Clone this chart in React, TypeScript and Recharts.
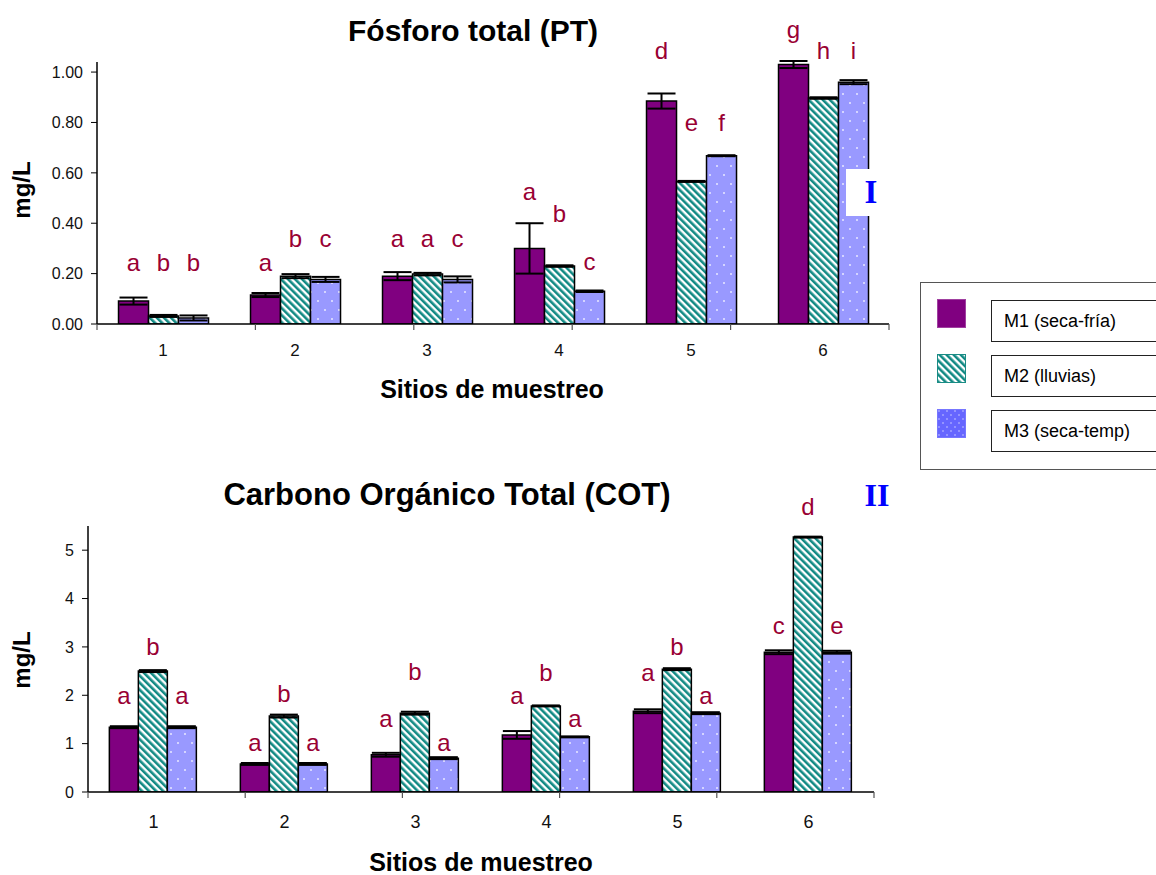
import React from "react"
import { BarChart, Bar, XAxis, YAxis, ErrorBar, LabelList } from "recharts"

const FONT = "Arial, 'Liberation Sans', sans-serif"
const SERIF = "'Times New Roman', 'Liberation Serif', serif"
const LETTER = "#990033"

const sites = ["1", "2", "3", "4", "5", "6"]
const seriesNames = ["M1 (seca-fría)", "M2 (lluvias)", "M3 (seca-temp)"]

// Fósforo total (PT), mg/L
const ptM1 = [0.091, 0.115, 0.19, 0.3, 0.885, 1.03]
const ptM2 = [0.032, 0.19, 0.198, 0.23, 0.566, 0.897]
const ptM3 = [0.024, 0.177, 0.177, 0.13, 0.668, 0.96]
const ptErrM1 = [0.014, 0.008, 0.016, 0.1, 0.03, 0.014]
const ptErrM2 = [0.004, 0.008, 0.005, 0.003, 0.002, 0.003]
const ptErrM3 = [0.01, 0.01, 0.012, 0.003, 0.002, 0.008]
const ptLetM1 = ["a", "a", "a", "a", "d", "g"]
const ptLetM2 = ["b", "b", "a", "b", "e", "h"]
const ptLetM3 = ["b", "c", "c", "c", "f", "i"]
// height (mg/L) at which each letter sits
const ptLvlM1 = [0.245, 0.245, 0.34, 0.526, 1.087, 1.17]
const ptLvlM2 = [0.245, 0.34, 0.34, 0.44, 0.8, 1.087]
const ptLvlM3 = [0.245, 0.34, 0.34, 0.25, 0.8, 1.087]
const ptTicks = [0, 0.2, 0.4, 0.6, 0.8, 1.0]

// Carbono Orgánico Total (COT), mg/L
const cotM1 = [1.34, 0.58, 0.77, 1.18, 1.67, 2.89]
const cotM2 = [2.5, 1.57, 1.63, 1.78, 2.54, 5.27]
const cotM3 = [1.34, 0.58, 0.7, 1.14, 1.63, 2.89]
const cotErrM1 = [0.02, 0.02, 0.04, 0.08, 0.04, 0.04]
const cotErrM2 = [0.02, 0.03, 0.03, 0.01, 0.02, 0.01]
const cotErrM3 = [0.02, 0.02, 0.02, 0.01, 0.02, 0.03]
const cotLetM1 = ["a", "a", "a", "a", "a", "c"]
const cotLetM2 = ["b", "b", "b", "b", "b", "d"]
const cotLetM3 = ["a", "a", "a", "a", "a", "e"]
const cotLvlM1 = [2.0, 1.03, 1.53, 2.0, 2.48, 3.45]
const cotLvlM2 = [3.0, 2.04, 2.5, 2.48, 3.0, 5.9]
const cotLvlM3 = [2.0, 1.03, 1.03, 1.53, 2.0, 3.45]
const cotTicks = [0, 1, 2, 3, 4, 5]

// category boundaries on the x axis (tick marks sit between sites)
const bounds = [0, 1, 2, 3, 4, 5, 6]

const buildRows = (m1: number[], m2: number[], m3: number[], e1: number[], e2: number[], e3: number[]) =>
  sites.map((s, i) => ({ site: s, m1: m1[i], m2: m2[i], m3: m3[i], e1: e1[i], e2: e2[i], e3: e3[i] }))

const ptData = buildRows(ptM1, ptM2, ptM3, ptErrM1, ptErrM2, ptErrM3)
const cotData = buildRows(cotM1, cotM2, cotM3, cotErrM1, cotErrM2, cotErrM3)

const fills = ["#800080", "url(#stripes)", "url(#dots)"]

const letterLabel = (letters: string[], levels: number[], values: number[]) => (props: any) => {
  const { x, y, width, height, index } = props
  const v = values[index]
  if (!v || !height) return null
  const base = Number(y) + Number(height)
  const ly = base - (levels[index] / v) * Number(height)
  return (
    <text
      x={Number(x) + Number(width) / 2}
      y={ly}
      textAnchor="middle"
      dominantBaseline="central"
      fontSize={24}
      fill={LETTER}
      fontFamily={FONT}
    >
      {letters[index]}
    </text>
  )
}

// tick mark only, no label
const BoundTick = (props: any) => {
  const { x, y } = props
  return <line x1={x} x2={x} y1={y - 8} y2={y - 2} stroke="#555" strokeWidth={1.2} />
}

type PanelProps = {
  data: any[]
  domain: [number, number]
  ticks: number[]
  fmt: (v: number) => string
  margin: { top: number; right: number; left: number; bottom: number }
  values: number[][]
  letters: string[][]
  levels: number[][]
  xFont: number
  xGap: number
}

const Panel = ({ data, domain, ticks, fmt, margin, values, letters, levels, xFont, xGap }: PanelProps) => (
  <BarChart width={900} height={400} data={data} margin={margin} barCategoryGap="16.3%" barGap={0}>
    <XAxis
      xAxisId="sites"
      dataKey="site"
      height={30}
      axisLine={false}
      tickLine={false}
      tickMargin={xGap}
      tick={{ fontSize: xFont, fill: "#111", fontFamily: FONT }}
    />
    <XAxis
      xAxisId="a"
      type="number"
      domain={[0, 6]}
      ticks={bounds}
      interval={0}
      height={1}
      axisLine={{ stroke: "#000", strokeWidth: 1.5 }}
      tickLine={false}
      tickSize={0}
      tickMargin={8}
      tick={<BoundTick />}
    />
    <YAxis
      width={60}
      domain={domain}
      ticks={ticks}
      tickFormatter={fmt}
      axisLine={{ stroke: "#000", strokeWidth: 1.5 }}
      tickLine={{ stroke: "#000" }}
      tickSize={6}
      tickMargin={8}
      tick={{ fontSize: 16, fill: "#111", fontFamily: FONT }}
      allowDataOverflow
    />
    {["m1", "m2", "m3"].map((k, si) => (
      <Bar key={k} xAxisId="sites" dataKey={k} fill={fills[si]} stroke="#000" strokeWidth={1.5} isAnimationActive={false}>
        <ErrorBar dataKey={"e" + (si + 1)} width={14} stroke="#000" strokeWidth={2} direction="y" />
        <LabelList content={letterLabel(letters[si], levels[si], values[si])} />
      </Bar>
    ))}
  </BarChart>
)

const abs = (left: number, top: number): React.CSSProperties => ({
  position: "absolute",
  left,
  top,
  transform: "translate(-50%, -50%)",
  whiteSpace: "nowrap",
  fontFamily: FONT,
})

const Swatch = ({ fill, stroke }: { fill: string; stroke: string }) => (
  <svg width={29} height={29} style={{ display: "block" }}>
    <rect x={0.5} y={0.5} width={28} height={28} fill={fill} stroke={stroke} />
  </svg>
)

const legendFills = ["#800080", "url(#stripes)", "url(#dotsLegend)"]
const legendStrokes = ["#a040a0", "#1a8c85", "#7777ff"]

export default function App() {
  return (
    <div style={{ position: "absolute", left: 0, top: 0, width: 1156, height: 875, background: "#fff", overflow: "hidden" }}>
      <svg width={0} height={0} style={{ position: "absolute" }}>
        <defs>
          <pattern id="stripes" patternUnits="userSpaceOnUse" width={5} height={5} patternTransform="rotate(-45)">
            <rect width={5} height={5} fill="#fff" />
            <rect width={2.6} height={5} fill="#128a84" />
          </pattern>
          <pattern id="dots" patternUnits="userSpaceOnUse" width={14} height={18}>
            <rect width={14} height={18} fill="#9999ff" />
            <circle cx={3} cy={4} r={1} fill="#e8e8ff" />
            <circle cx={10} cy={13} r={1} fill="#e8e8ff" />
          </pattern>
          <pattern id="dotsLegend" patternUnits="userSpaceOnUse" width={8} height={8}>
            <rect width={8} height={8} fill="#6666ff" />
            <circle cx={2} cy={2} r={0.8} fill="#ccccff" />
            <circle cx={6} cy={6} r={0.8} fill="#ccccff" />
          </pattern>
        </defs>
      </svg>

      <div style={{ position: "absolute", left: 0, top: 0 }}>
        <Panel
          data={ptData}
          domain={[0, 1.04]}
          ticks={ptTicks}
          fmt={(v) => v.toFixed(2)}
          margin={{ top: 62, right: 11, left: 37, bottom: 45 }}
          values={[ptM1, ptM2, ptM3]}
          letters={[ptLetM1, ptLetM2, ptLetM3]}
          levels={[ptLvlM1, ptLvlM2, ptLvlM3]}
          xFont={17}
          xGap={13}
        />
      </div>
      <div style={{ position: "absolute", left: 0, top: 460 }}>
        <Panel
          data={cotData}
          domain={[0, 5.5]}
          ticks={cotTicks}
          fmt={(v) => String(v)}
          margin={{ top: 66, right: 26, left: 28, bottom: 37 }}
          values={[cotM1, cotM2, cotM3]}
          letters={[cotLetM1, cotLetM2, cotLetM3]}
          levels={[cotLvlM1, cotLvlM2, cotLvlM3]}
          xFont={18}
          xGap={16}
        />
      </div>

      <div style={{ ...abs(473, 31), fontSize: 30, fontWeight: "bold" }}>Fósforo total (PT)</div>
      <div style={{ ...abs(447, 495), fontSize: 31, fontWeight: "bold" }}>Carbono Orgánico Total (COT)</div>
      <div style={{ ...abs(492, 389), fontSize: 25, fontWeight: "bold" }}>Sitios de muestreo</div>
      <div style={{ ...abs(481, 862), fontSize: 25, fontWeight: "bold" }}>Sitios de muestreo</div>
      <div style={{ ...abs(22, 190), fontSize: 24, fontWeight: "bold", transform: "translate(-50%, -50%) rotate(-90deg)" }}>mg/L</div>
      <div style={{ ...abs(22, 660), fontSize: 24, fontWeight: "bold", transform: "translate(-50%, -50%) rotate(-90deg)" }}>mg/L</div>

      <div
        style={{
          position: "absolute",
          left: 846,
          top: 169,
          width: 50,
          height: 47,
          background: "#fff",
          display: "flex",
          alignItems: "center",
          justifyContent: "center",
          color: "#0000ff",
          fontFamily: SERIF,
          fontWeight: "bold",
          fontSize: 33,
        }}
      >
        I
      </div>
      <div style={{ ...abs(877, 495), color: "#0000ff", fontFamily: SERIF, fontWeight: "bold", fontSize: 32 }}>II</div>

      <div
        style={{
          position: "absolute",
          left: 920,
          top: 282,
          width: 250,
          height: 186,
          border: "1px solid #555",
          background: "#fff",
        }}
      >
        {seriesNames.map((name, i) => (
          <div key={name}>
            <div style={{ position: "absolute", left: 16, top: 16 + i * 55 }}>
              <Swatch fill={legendFills[i]} stroke={legendStrokes[i]} />
            </div>
            <div
              style={{
                position: "absolute",
                left: 70,
                top: 17 + i * 55,
                width: 200,
                height: 42,
                border: "1px solid #222",
                display: "flex",
                alignItems: "center",
                paddingLeft: 12,
                boxSizing: "border-box",
                fontFamily: FONT,
                fontSize: 18,
                color: "#000",
              }}
            >
              {name}
            </div>
          </div>
        ))}
      </div>
    </div>
  )
}
